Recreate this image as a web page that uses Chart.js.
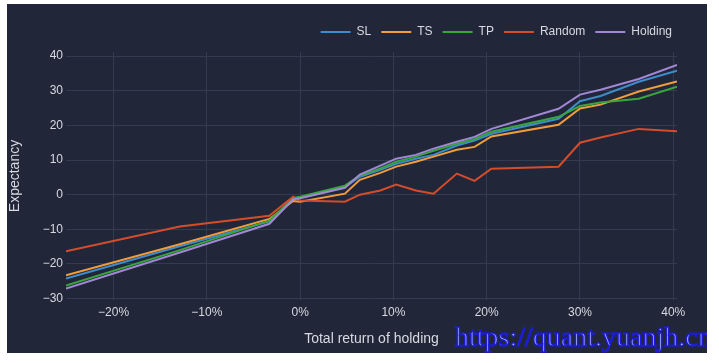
<!DOCTYPE html>
<html>
<head>
<meta charset="utf-8">
<script src="https://cdn.jsdelivr.net/npm/chart.js@4"></script>
<style>
    html, body { margin: 0; padding: 0; background: #ffffff; }
    #wrap { width: 719px; height: 363px; }
</style>
</head>
<body>
<div id="wrap"><canvas id="grafico-linha" width="719" height="363"></canvas></div>
<script>
//Dados
let retornoHolding = [-25.1, -12.9, -3.3, -0.75, 0.0, 4.8, 6.4, 8.6, 10.3, 12.4, 14.3, 16.8, 18.7, 20.5, 27.7, 30.0, 32.2, 36.3, 40.4];
let serieSL = [-24.2, -14.9, -7.7, -1.3, -0.9, 2.2, 5.2, 7.2, 8.9, 10.4, 11.5, 14.2, 15.6, 17.6, 21.9, 27.0, 28.5, 32.6, 35.8];
let serieTS = [-23.3, -14.3, -7.0, -1.8, -2.0, 0.3, 4.3, 6.3, 8.1, 9.5, 11.0, 13.0, 13.8, 16.8, 20.2, 24.9, 26.0, 29.8, 32.7];
let serieTP = [-26.2, -16.0, -7.5, -0.9, -0.6, 2.6, 5.5, 7.6, 9.5, 11.0, 12.7, 14.7, 16.1, 18.2, 22.5, 25.6, 26.6, 27.7, 31.2];
let serieRandom = [-16.3, -9.2, -6.1, -0.6, -1.7, -2.0, 0.0, 1.2, 2.9, 1.2, 0.3, 6.1, 4.0, 7.5, 8.1, 15.0, 16.5, 19.0, 18.3];
let serieHolding = [-27.1, -16.7, -8.4, -1.3, -1.0, 2.0, 5.8, 8.4, 10.4, 11.5, 13.3, 15.3, 16.7, 19.0, 24.8, 28.9, 30.3, 33.4, 37.5];

let ticksX = [-20, -10, 0, 10, 20, 30, 40];
let ticksY = [-30, -20, -10, 0, 10, 20, 30, 40];

let nomes = ['SL', 'TS', 'TP', 'Random', 'Holding'];
let cores = ['#3d8ccc', '#f39c3c', '#38a63c', '#d44c2c', '#a287d6'];

const fundo = '#212738';
const grade = '#333b4e';
const texto = '#d6dae2';

function pontos(valores) {
    let lista = [];
    for (var i = 0; i < retornoHolding.length; i++) {
        lista.push({ x: retornoHolding[i], y: valores[i] });
    }
    return lista;
}

function menos(v) {
    return v < 0 ? '\u2212' + Math.abs(v) : '' + v;
}

//Ordem invertida para que Holding fique por cima
let series = [serieSL, serieTS, serieTP, serieRandom, serieHolding];
let datasets = [];
for (var i = series.length - 1; i >= 0; i--) {
    datasets.push({
        label: nomes[i],
        data: pontos(series[i]),
        borderColor: cores[i],
        backgroundColor: cores[i],
        borderWidth: 2,
        pointRadius: 0,
        tension: 0
    });
}

//Fundo escuro, ajuste da legenda e marca d'água
const pluginFundo = {
    id: 'fundo',
    afterLayout(chart) {
        const leg = chart.legend;
        leg.left += 5; leg.right += 5;
        leg.top -= 4; leg.bottom -= 4;
    },
    beforeDraw(chart) {
        const c = chart.ctx;
        c.save();
        c.fillStyle = fundo;
        c.fillRect(7, 4, 700, 349);
        c.restore();
    },
    afterDraw(chart) {
        const c = chart.ctx;
        c.save();
        c.beginPath();
        c.rect(0, 0, 707, 363);
        c.clip();
        c.font = '28px "Liberation Serif"';
        c.textBaseline = 'alphabetic';
        c.lineWidth = 1.5;
        c.strokeStyle = '#1c1cd0';
        c.fillStyle = '#b4b4ff';
        c.fillText('https://quant.yuanjh.cn', 455, 346);
        c.strokeText('https://quant.yuanjh.cn', 455, 346);
        c.restore();
    }
};

const ctx = document.getElementById('grafico-linha');
new Chart(ctx, {
    type: 'line',
    data: { datasets: datasets },
    plugins: [pluginFundo],
    options: {
        responsive: false,
        animation: false,
        layout: { padding: { left: 7, top: 20, right: 42, bottom: 8 } },
        scales: {
            x: {
                type: 'linear',
                min: -25.1,
                max: 40.4,
                afterBuildTicks: function (s) { s.ticks = ticksX.map(v => ({ value: v })); },
                afterFit: function (s) { s.height = 55; },
                grid: { color: grade, drawTicks: false },
                border: { display: false },
                ticks: {
                    padding: 5,
                    color: texto,
                    font: { size: 12, family: 'Liberation Sans' },
                    callback: function (v) { return menos(v) + '%'; }
                },
                title: {
                    display: true,
                    text: 'Total return of holding',
                    color: texto,
                    font: { size: 14, family: 'Liberation Sans' },
                    padding: { top: 0, bottom: 7 }
                }
            },
            y: {
                min: -30.4,
                max: 41.2,
                afterBuildTicks: function (s) { s.ticks = ticksY.map(v => ({ value: v })); },
                afterFit: function (s) { s.width = 59; },
                grid: { color: grade, drawTicks: false },
                border: { display: false },
                ticks: {
                    padding: 3,
                    color: texto,
                    font: { size: 12, family: 'Liberation Sans' },
                    callback: function (v) { return menos(v); }
                },
                title: {
                    display: true,
                    text: 'Expectancy',
                    color: texto,
                    font: { size: 14, family: 'Liberation Sans' },
                    padding: { top: 0, bottom: 0 }
                }
            }
        },
        plugins: {
            tooltip: { enabled: false },
            legend: {
                position: 'top',
                align: 'end',
                reverse: true,
                labels: {
                    boxWidth: 30,
                    boxHeight: 2,
                    padding: 10,
                    color: texto,
                    font: { size: 12, family: 'Liberation Sans' },
                    generateLabels: function (chart) {
                        let itens = Chart.defaults.plugins.legend.labels.generateLabels(chart);
                        itens.forEach(function (it) { it.lineWidth = 0; it.strokeStyle = it.fillStyle; });
                        return itens;
                    }
                }
            }
        }
    }
});
</script>
</body>
</html>
